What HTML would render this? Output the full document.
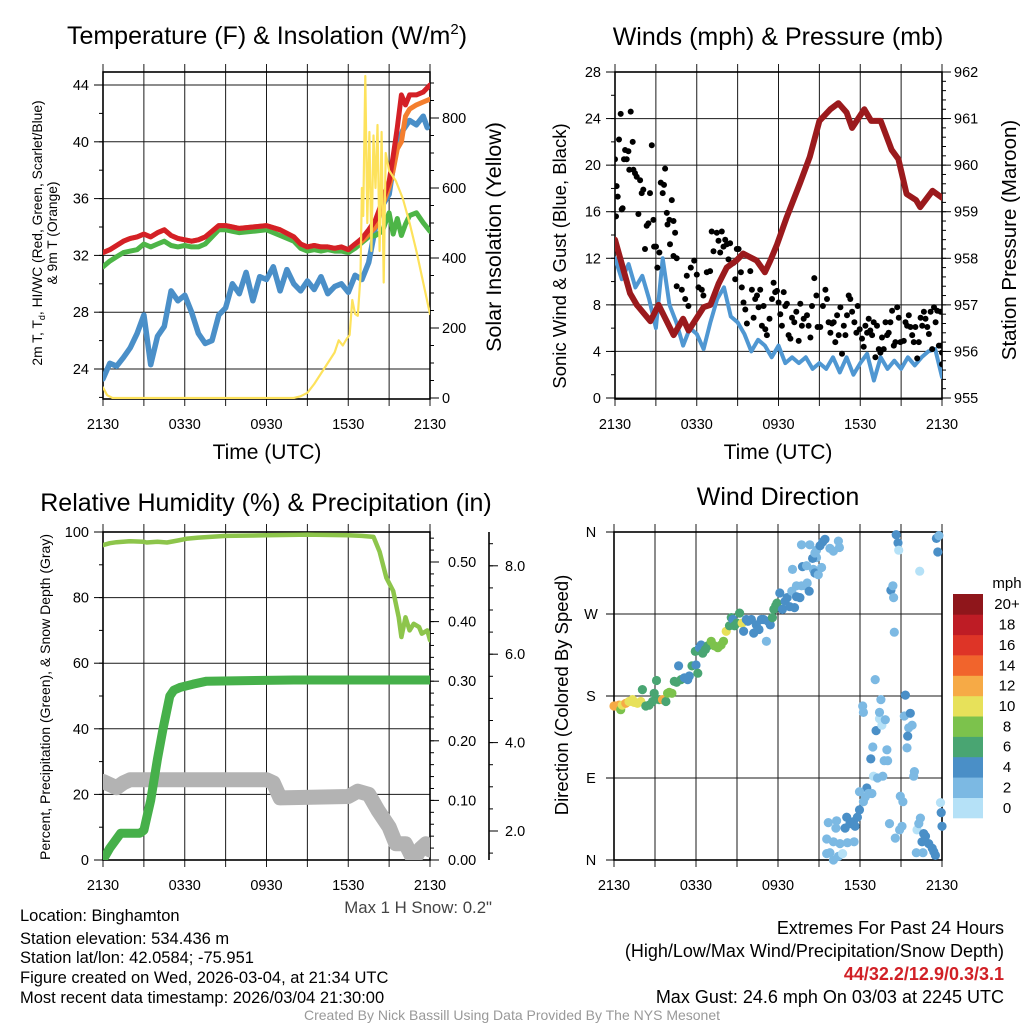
<!DOCTYPE html>
<html><head><meta charset="utf-8"><style>
html,body{margin:0;padding:0;background:#fff;}
svg{display:block;font-family:"Liberation Sans",sans-serif;}
</style></head><body>
<svg id="fig" width="1024" height="1024" viewBox="0 0 1024 1024" xmlns="http://www.w3.org/2000/svg">
<defs>
<clipPath id="c1"><rect x="103" y="72" width="327" height="327"/></clipPath>
<clipPath id="c2"><rect x="615" y="72" width="327" height="327"/></clipPath>
<clipPath id="c3"><rect x="103" y="532" width="327" height="328"/></clipPath>
<clipPath id="c4"><rect x="609" y="527" width="338" height="338"/></clipPath>
</defs>
<g id="p1"></g>
<g id="p2"></g>
<g id="p3"></g>
<g id="p4"></g>

<text x="267" y="44" font-size="25" text-anchor="middle">Temperature (F) &amp; Insolation (W/m<tspan font-size="15" dy="-10">2</tspan><tspan dy="10">)</tspan></text>
<text x="778" y="45" font-size="25" text-anchor="middle">Winds (mph) &amp; Pressure (mb)</text>
<text x="266" y="511" font-size="25" text-anchor="middle">Relative Humidity (%) &amp; Precipitation (in)</text>
<text x="778" y="505" font-size="25" text-anchor="middle">Wind Direction</text>

<text x="267" y="459" font-size="21" text-anchor="middle">Time (UTC)</text>
<text x="778" y="459" font-size="21" text-anchor="middle">Time (UTC)</text>

<text transform="translate(42,233) rotate(-90)" font-size="13.8" text-anchor="middle">2m T, T<tspan font-size="9" dy="3">d</tspan><tspan dy="-3">, HI/WC (Red, Green, Scarlet/Blue)</tspan></text>
<text transform="translate(57,233) rotate(-90)" font-size="13.8" text-anchor="middle">&amp; 9m T (Orange)</text>
<text transform="translate(501,237) rotate(-90)" font-size="21.5" text-anchor="middle">Solar Insolation (Yellow)</text>
<text transform="translate(566,256) rotate(-90)" font-size="18.5" text-anchor="middle">Sonic Wind &amp; Gust (Blue, Black)</text>
<text transform="translate(1016,240) rotate(-90)" font-size="20.5" text-anchor="middle">Station Pressure (Maroon)</text>
<text transform="translate(50,697) rotate(-90)" font-size="14" text-anchor="middle">Percent, Precipitation (Green), &amp; Snow Depth (Gray)</text>
<text transform="translate(568,695) rotate(-90)" font-size="18.5" text-anchor="middle">Direction (Colored By Speed)</text>

<text x="492" y="913" font-size="16.8" fill="#444" text-anchor="end">Max 1 H Snow: 0.2"</text>

<g font-size="16.5">
<text x="20" y="921">Location: Binghamton</text>
<text x="20" y="944">Station elevation: 534.436 m</text>
<text x="20" y="963">Station lat/lon: 42.0584; -75.951</text>
<text x="20" y="983">Figure created on Wed, 2026-03-04, at 21:34 UTC</text>
<text x="20" y="1003">Most recent data timestamp: 2026/03/04 21:30:00</text>
</g>
<g font-size="18" text-anchor="end">
<text x="1004" y="934">Extremes For Past 24 Hours</text>
<text x="1004" y="957">(High/Low/Max Wind/Precipitation/Snow Depth)</text>
<text x="1004" y="980" fill="#d12026" font-weight="bold">44/32.2/12.9/0.3/3.1</text>
<text x="1004" y="1003">Max Gust: 24.6 mph On 03/03 at 2245 UTC</text>
</g>
<text x="512" y="1020" font-size="14" fill="#999" text-anchor="middle">Created By Nick Bassill Using Data Provided By The NYS Mesonet</text>

<text x="1007" y="588" font-size="15" text-anchor="middle">mph</text>
</svg>
<script>
// ===== Panel 1 data =====
const tempTimes = [0,0.5,1,1.5,2,2.5,3,3.5,4,4.5,5,5.5,6,6.5,7,7.5,8,8.5,9,9.5,10,11,12,13,14,14.5,15,15.5,16,16.5,17,17.5,18,18.5,19,19.5,20,20.5,21,21.3,21.6,21.9,22.2,22.5,23,23.5,24];
const tempF = [32.2,32.4,32.7,33.0,33.2,33.3,33.5,33.3,33.6,33.8,33.4,33.2,33.1,33.0,33.1,33.3,33.7,34.1,34.1,34.0,33.9,34.0,34.1,33.8,33.3,32.8,32.6,32.7,32.6,32.6,32.5,32.6,32.4,32.8,33.2,33.8,34.5,35.8,37.2,39.0,41.0,43.3,42.6,43.3,43.3,43.5,44.0];
const hiwcF = [31.2,31.6,31.9,32.2,32.3,32.4,32.8,32.6,32.8,33.0,32.7,32.6,32.7,32.6,32.6,32.8,33.3,33.8,33.8,33.7,33.6,33.7,33.8,33.4,33.0,32.5,32.3,32.4,32.3,32.4,32.3,32.3,32.2,32.5,32.9,33.3,33.4,33.7,35.0,33.5,34.6,33.4,34.2,34.8,35.0,34.3,33.7];
const temp9mF = [32.2,32.4,32.7,33.0,33.2,33.3,33.5,33.3,33.6,33.8,33.4,33.2,33.1,33.0,33.1,33.3,33.7,34.1,34.1,34.0,33.9,34.0,34.1,33.8,33.3,32.8,32.6,32.7,32.6,32.6,32.5,32.6,32.4,32.8,33.0,33.5,34.0,35.5,36.8,38.0,39.5,40.0,41.8,42.3,42.6,42.8,43.0];
const dewTimes = [0,0.5,1,1.5,2,2.5,3,3.5,4,4.5,5,5.5,6,6.5,7,7.5,8,8.5,9,9.5,10,10.5,11,11.5,12,12.5,13,13.5,14,14.5,15,15.5,16,16.5,17,17.5,18,18.5,19,19.5,20,20.5,21,21.5,22,22.5,23,23.5,23.8];
const dewF = [23.3,24.4,24.2,24.8,25.5,26.5,27.8,24.3,26.3,27.0,29.5,28.8,29.2,28.0,26.5,25.8,26.0,27.8,28.3,30.0,29.3,30.8,28.8,30.5,30.3,31.2,29.5,31.0,30.0,29.5,30.2,29.6,30.5,29.3,29.8,30.0,29.4,30.6,30.3,31.5,34.0,35.5,36.3,39.5,40.8,41.5,41.2,41.8,41.0];
const insolTimes = [0,0.3,0.7,1,14,14.5,15,15.5,16,16.5,17,17.3,17.6,17.9,18.1,18.3,18.5,18.7,18.9,19.0,19.1,19.25,19.4,19.55,19.7,19.85,20.0,20.15,20.3,20.45,20.6,20.75,21,21.5,22,22.5,23,23.5,24];
const insol = [30,8,0,0,0,5,15,40,70,100,130,165,150,170,180,280,240,235,350,600,520,920,500,760,420,750,600,780,420,760,330,700,650,620,570,500,420,330,240];
const p1LeftTicks = [24,28,32,36,40,44];
const p1RightTicks = [0,200,400,600,800];
const timeLabels = ["2130","0330","0930","1530","2130"];

// ===== Panel 2 data =====
const windTimes = [0,0.5,1,1.5,2,2.5,3,3.5,4,4.5,5,5.5,6,6.5,7,7.5,8,8.5,9,9.5,10,10.5,11,11.5,12,12.5,13,13.5,14,14.5,15,15.5,16,16.5,17,17.5,18,18.5,19,19.5,20,20.5,21,21.5,22,22.5,23,23.5,24];
const windMph = [12.0,10.2,11.5,9.5,10.5,8.5,6.0,12.0,8.0,6.5,4.5,6.0,5.5,4.2,6.5,8.5,9.5,7.0,6.5,5.5,4.0,5.0,4.5,3.5,4.5,3.0,3.5,3.0,3.5,2.5,3.0,2.5,3.5,2.2,3.5,2.0,3.0,3.8,1.5,3.5,2.5,3.2,2.5,3.5,2.8,3.5,4.0,4.2,1.8];
const pressTimes = [0,1.1,1.6,2.6,3.2,4.3,5.0,5.4,6.5,7.0,7.6,8.2,8.9,9.4,10.4,11.0,11.4,11.9,12.6,13.6,14.3,15.0,15.8,16.4,17.0,17.4,18.3,18.8,19.5,20.3,20.8,21.4,22.1,22.4,23.3,24];
const pressMb = [958.40,957.25,957.00,956.65,957.00,956.35,956.70,956.45,956.95,957.00,957.45,957.80,957.95,958.10,957.95,957.70,957.95,958.30,958.88,959.63,960.18,960.95,961.20,961.33,961.13,960.80,961.20,960.95,960.95,960.33,960.13,959.38,959.25,959.10,959.45,959.30];
const gustTimes = [0,0.07,0.12,0.2,0.29,0.42,0.49,0.56,0.66,0.74,0.86,0.98,1.05,1.15,1.3,1.35,1.47,1.59,1.72,1.84,1.96,2.08,2.2,2.33,2.45,2.57,2.7,2.82,2.87,3.01,3.11,3.26,3.36,3.5,3.6,3.68,3.8,3.85,3.99,4.17,4.29,4.41,4.04,4.29,4.53,4.53,4.9,5.15,5.27,5.39,5.56,5.81,6.0,6.13,6.37,6.49,6.74,6.98,7.1,7.23,7.47,7.6,7.72,7.84,7.96,8.09,8.21,8.33,8.45,8.7,8.82,8.94,9.07,9.24,9.31,9.43,9.56,9.68,9.93,10.05,10.17,10.29,10.42,10.54,10.66,10.78,10.91,11.03,11.15,11.34,11.52,11.64,11.76,11.89,12.01,12.13,12.25,12.38,12.5,12.62,12.74,12.87,12.99,13.16,13.31,13.48,13.6,13.72,13.85,14.09,14.21,14.34,14.46,14.63,14.78,14.87,15.07,15.26,15.44,15.56,15.68,15.81,15.93,16.05,16.17,16.3,16.42,16.54,16.66,16.79,16.91,17.03,17.15,17.27,17.4,17.57,17.72,17.81,17.96,18.13,18.25,18.38,18.5,18.62,18.74,18.87,18.99,19.11,19.23,19.36,19.48,19.6,19.72,19.85,19.97,20.09,20.21,20.34,20.46,20.58,20.71,20.83,20.95,21.2,21.32,21.44,21.56,21.69,21.81,21.93,22.05,22.18,22.3,22.43,22.55,22.67,22.79,22.92,23.04,23.16,23.28,23.41,23.53,23.65,23.77,23.9,23.95,24,24];
const gustMph = [20.5,15.6,18.2,17.3,22.2,24.4,16.2,16.3,20.5,21.3,20.5,21.2,19.6,24.6,22.0,19.6,19.3,19.0,15.8,18.7,17.6,17.9,12.8,14.8,15.0,17.6,21.7,15.3,13.0,13.0,11.2,12.5,18.5,17.6,18.3,19.7,15.9,14.9,15.3,17.0,15.2,14.2,13.2,12.2,12.0,9.6,9.3,8.5,10.5,7.9,11.2,11.8,10.6,9.5,9.3,8.8,10.8,10.9,14.3,12.6,14.2,13.5,12.5,14.3,13.0,13.6,13.2,11.9,13.3,11.6,10.2,12.8,12.8,10.8,9.5,8.2,7.6,6.4,10.9,9.3,6.9,8.5,8.8,7.8,9.3,6.2,7.9,5.9,5.4,6.8,8.5,9.9,9.1,9.2,8.2,7.2,6.2,9.1,7.9,8.1,5.4,5.1,6.9,6.5,7.4,4.9,8.1,6.2,6.8,7.1,6.2,5.2,7.9,10.3,8.8,6.1,6.1,7.9,9.3,8.5,6.5,5.6,6.4,6.5,4.8,7.1,5.4,7.8,3.8,6.2,5.4,7.1,8.8,8.5,7.4,6.5,5.6,7.9,5.9,5.1,4.4,6.2,5.6,6.8,5.8,5.4,6.5,3.5,6.2,4.2,3.9,5.2,4.2,6.5,5.4,5.6,6.5,7.5,4.5,4.8,7.8,6.9,4.8,4.9,6.5,6.2,7.1,6.1,5.4,4.8,6.1,3.4,4.8,6.9,6.2,7.4,6.8,6.1,5.5,7.4,4.2,7.8,6.5,7.5,4.5,7.4,4.5,3.9,2.9];
const p2LeftTicks = [0,4,8,12,16,20,24,28];
const p2RightTicks = [955,956,957,958,959,960,961,962];

// ===== Panel 3 data =====
const rhTimes = [0,0.5,1,2,3,3.2,4,4.7,5.5,6.2,7,9,12,15,18,19,19.85,20.3,20.8,21.3,21.7,21.9,22.2,22.5,22.8,23.2,23.4,23.8,24];
const rhPct = [96,96.6,96.9,97.2,97.0,96.8,97.0,96.8,97.4,98.0,98.3,98.8,99.0,99.2,99.0,98.8,98.5,94,86,82,74,68,74,70,72,71,69,70,67];
const precipTimes = [0,0.5,1.3,2.7,3.0,3.2,3.5,4.0,4.4,4.9,5.2,5.7,6.6,7.6,14,24];
const precipIn = [0,0.02,0.045,0.045,0.05,0.07,0.10,0.17,0.22,0.275,0.285,0.29,0.295,0.30,0.302,0.302];
const snowTimes = [0,1,1.5,2,12,12.5,13,18,18.7,19.5,20.2,21,21.5,22.2,22.8,23.3,23.7,24];
const snowIn = [3.12,2.98,3.09,3.16,3.16,3.09,2.75,2.78,2.90,2.83,2.46,2.09,1.71,1.71,1.34,1.60,1.71,1.57];
const p3LeftTicks = [0,20,40,60,80,100];
const precipTicks = [0,0.1,0.2,0.3,0.4,0.5];
const precipTickLabels = ["0.00","0.10","0.20","0.30","0.40","0.50"];
const snowTicks = [2,4,6,8];
const snowTickLabels = ["2.0","4.0","6.0","8.0"];

// ===== Panel 4 data =====
const dirTimes = [0,0.12,0.37,0.49,0.61,0.86,1.10,1.35,1.47,1.72,1.96,2.08,2.33,2.57,2.82,2.94,3.11,3.31,3.55,3.80,3.92,4.04,4.24,4.41,4.58,4.73,4.90,5.15,5.39,5.51,5.71,6.00,6.13,5.95,6.25,6.37,6.49,6.69,6.86,7.11,7.35,7.60,7.84,8.01,8.21,8.45,8.58,8.70,8.82,8.99,9.19,9.38,9.48,9.68,9.80,10.05,10.22,10.41,10.61,10.78,10.95,11.15,11.27,11.44,11.59,11.69,11.83,11.93,12.13,12.32,12.52,12.67,12.86,13.01,13.21,13.35,13.60,13.35,13.72,13.97,14.14,14.28,13.06,13.79,14.09,14.58,14.70,14.95,15.19,14.82,14.53,14.70,14.82,13.72,14.33,15.07,15.26,15.44,15.80,16.05,16.42,16.49,15.68,16.29,16.24,16.91,17.03,17.27,17.52,17.64,17.81,15.56,16.05,16.54,17.08,17.57,15.56,15.80,16.05,16.42,16.73,17.96,18.25,18.38,18.50,18.62,18.87,17.96,18.99,19.28,19.67,18.79,18.94,19.77,20.02,19.97,19.18,19.60,19.43,19.85,19.43,18.20,18.25,19.53,19.11,20.26,20.41,20.46,20.51,20.65,20.78,20.83,22.37,23.59,23.69,23.77,21.32,21.24,21.68,21.81,21.56,21.49,21.44,21.98,21.93,20.95,21.14,20.16,21.07,20.90,20.58,22.17,22.42,22.30,22.66,22.79,22.54,23.03,23.28,23.40,23.52,22.12,22.61,23.89,23.94,24.0];
const dirDeg = [169,169,170,165,170,172,174,176,173,172,174,187,169,170,174,183,197,176,176,174,183,184,183,196,195,213,198,200,198,202,213,214,205,229,233,236,227,231,235,240,235,233,236,240,251,257,266,264,257,260,271,260,251,264,262,264,249,258,253,264,264,240,262,258,266,275,279,282,293,275,284,288,278,295,277,289,288,301,301,301,304,295,319,322,323,319,315,313,321,332,331,337,340,346,346,345,349,352,342,339,350,343,41,43,35,35,47,40,42,37,47,23,20,18,19,20,7,8,0,4,7,55,64,69,79,73,73,75,92,90,92,111,124,109,109,121,142,148,155,154,162,169,162,176,198,296,301,288,250,357,348,340,317,353,338,356,181,158,161,148,145,136,123,97,92,70,64,40,37,33,24,33,46,40,29,26,20,18,13,9,5,8,8,63,52,37];
const dirSpeed = [12,12,12,8,10,12,10,10,10,10,10,6,6,6,6,6,6,6,12,6,8,8,8,6,6,4,6,4,4,4,6,4,6,6,4,4,6,6,6,8,8,8,8,8,10,6,6,4,6,6,6,10,4,4,4,4,4,4,4,4,4,2,4,4,6,6,6,6,4,4,4,4,4,2,4,4,4,2,2,2,2,4,2,4,2,2,4,2,2,2,4,2,2,2,2,4,4,4,2,2,2,2,2,2,2,4,4,4,4,4,4,2,2,2,2,2,2,2,2,2,0,4,2,2,4,2,2,2,0,2,2,4,2,2,2,2,4,0,0,2,2,2,2,2,2,4,2,2,2,4,4,0,0,4,4,2,4,2,4,2,2,4,2,2,2,2,2,2,2,2,2,0,2,2,4,4,4,4,4,4,4,2,2,0,4,4];
const dirTickLabels = ["N","E","S","W","N"];
const dirTickDeg = [0,90,180,270,360];
const speedBins = [0,2,4,6,8,10,12,14,16,18,20];
const speedBinLabels = ["0","2","4","6","8","10","12","14","16","18","20+"];
const speedColors = ["#b5e1f7","#7cb9e3","#4a8fc7","#49a572","#7cc24c","#e7e15a","#f6aa46","#f1642c","#de3427","#be1c25","#8f161b"];

// ===== helpers =====
const NS = "http://www.w3.org/2000/svg";
function mk(tag, parent, attrs){
  const e = document.createElementNS(NS, tag);
  for (const k in attrs) e.setAttribute(k, attrs[k]);
  parent.appendChild(e);
  return e;
}
function pathD(ts, vs, fx, fy){
  let d = "";
  for (let i=0;i<ts.length;i++){ d += (i?"L":"M") + fx(ts[i]).toFixed(1) + "," + fy(vs[i]).toFixed(1); }
  return d;
}
const TICK_FS = "14.5";

function frame(g, x0, y0, w, h, hGridVals, fy, name){
  const grid = mk("g", g, {stroke:"#1a1a1a","stroke-width":"1"});
  
  
  for (let k=0;k<=8;k++){
    const x = x0 + k*w/8;
    mk("line", grid, {x1:x, x2:x, y1:y0-8, y2:y0+h+7});
  }
  hGridVals.forEach(v=>{ const y=fy(v); mk("line", grid, {x1:x0, x2:x0+w, y1:y, y2:y}); });
  const box = mk("rect", g, {x:x0, y:y0, width:w, height:h, fill:"none", stroke:"#000", "stroke-width":"1.6"});
  
  
  timeLabels.forEach((lab,k)=>{
    const t = mk("text", g, {x:x0 + k*w/4, y:y0+h+30, "font-size":TICK_FS, "text-anchor":"middle"});
    t.textContent = lab;
    
    
  });
}
function leftTicks(g, x0, vals, labels, fy, minorVals, name){
  const tg = mk("g", g, {stroke:"#000","stroke-width":"1"});
  
  
  minorVals.forEach(v=>mk("line", tg, {x1:x0-4, x2:x0, y1:fy(v), y2:fy(v)}));
  vals.forEach((v,i)=>{
    mk("line", tg, {x1:x0-9, x2:x0, y1:fy(v), y2:fy(v)});
    const t = mk("text", g, {x:x0-14, y:fy(v)+5, "font-size":TICK_FS, "text-anchor":"end"});
    t.textContent = labels[i];
    
    
  });
}
function rightTicks(g, x0, vals, labels, fy, minorVals, name, gap){
  const tg = mk("g", g, {stroke:"#000","stroke-width":"1"});
  
  
  minorVals.forEach(v=>mk("line", tg, {x1:x0, x2:x0+4, y1:fy(v), y2:fy(v)}));
  vals.forEach((v,i)=>{
    mk("line", tg, {x1:x0, x2:x0+9, y1:fy(v), y2:fy(v)});
    const t = mk("text", g, {x:x0+gap, y:fy(v)+5, "font-size":TICK_FS, "text-anchor":"start"});
    t.textContent = labels[i];
    
    
  });
}
function range(a,b,s){ const r=[]; for(let v=a; v<=b+1e-9; v+=s) r.push(+v.toFixed(4)); return r; }

// ===== Panel 1 =====
(function(){
  const g = document.getElementById("p1");
  const X = t => 103 + t*327/24;
  const YL = v => 369 - (v-24)*14.2;
  const YR = w => 398 - w*0.35;
  frame(g, 103, 72, 327, 327, p1LeftTicks, YL, "p1");
  leftTicks(g, 103, p1LeftTicks, p1LeftTicks.map(String), YL, range(22,44,2), "p1-left");
  rightTicks(g, 430, p1RightTicks, p1RightTicks.map(String), YR, range(0,900,50), "p1-right", 12);
  const cg = mk("g", g, {"clip-path":"url(#c1)", fill:"none", "stroke-linejoin":"round", "stroke-linecap":"round"});
  
  
  const dew = mk("path", cg, {d:pathD(dewTimes, dewF, X, YL), stroke:"#4a8fc8", "stroke-width":"5.5"});
  
  
  const hw = mk("path", cg, {d:pathD(tempTimes, hiwcF, X, YL), stroke:"#4db547", "stroke-width":"5"});
  
  
  const t9 = mk("path", cg, {d:pathD(tempTimes, temp9mF, X, YL), stroke:"#f47e2e", "stroke-width":"5"});
  
  
  const t2 = mk("path", cg, {d:pathD(tempTimes, tempF, X, YL), stroke:"#d42026", "stroke-width":"5"});
  
  
  const ins = mk("path", cg, {d:pathD(insolTimes, insol, X, YR), stroke:"#fde25c", "stroke-width":"2.2"});
  
  
})();

// ===== Panel 2 =====
(function(){
  const g = document.getElementById("p2");
  const X = t => 615 + t*327/24;
  const YL = v => 398 - v*326/28;
  const YP = p => 398 - (p-955)*326/7;
  frame(g, 615, 72, 327, 327, p2LeftTicks, YL, "p2");
  leftTicks(g, 615, p2LeftTicks, p2LeftTicks.map(String), YL, range(0,28,2), "p2-left");
  rightTicks(g, 942, p2RightTicks, p2RightTicks.map(String), YP, range(955,962,0.2), "p2-right", 12);
  const cg = mk("g", g, {"clip-path":"url(#c2)", fill:"none", "stroke-linejoin":"round", "stroke-linecap":"round"});
  
  
  const w = mk("path", cg, {d:pathD(windTimes, windMph, X, YL), stroke:"#4f97d2", "stroke-width":"4"});
  
  
  const dg = mk("g", cg, {fill:"#000"});
  
  
  for (let i=0;i<gustTimes.length;i++){
    const c = mk("circle", dg, {cx:X(gustTimes[i]).toFixed(1), cy:YL(gustMph[i]).toFixed(1), r:"3"});
    
    
  }
  const p = mk("path", cg, {d:pathD(pressTimes, pressMb, X, YP), stroke:"#9b1a1d", "stroke-width":"6"});
  
  
})();

// ===== Panel 3 =====
(function(){
  const g = document.getElementById("p3");
  const X = t => 103 + t*327/24;
  const YL = v => 860 - v*3.28;
  const YPr = v => 860 - v*596;
  const YS = v => 831 - (v-2)*44.2;
  frame(g, 103, 532, 327, 328, p3LeftTicks, YL, "p3");
  leftTicks(g, 103, p3LeftTicks, p3LeftTicks.map(String), YL, range(0,100,10), "p3-left");
  rightTicks(g, 430, precipTicks, precipTickLabels, YPr, range(0,0.54,0.02), "precip", 18);
  const ax = mk("line", g, {x1:489, x2:489, y1:532, y2:860, stroke:"#000", "stroke-width":"1.6"});
  
  
  rightTicks(g, 489, snowTicks, snowTickLabels, YS, range(1.5,8.5,0.5), "snow", 16);
  const cg = mk("g", g, {"clip-path":"url(#c3)", fill:"none", "stroke-linejoin":"round", "stroke-linecap":"round"});
  
  
  const s = mk("path", cg, {d:pathD(snowTimes, snowIn, X, YS), stroke:"#b3b3b3", "stroke-width":"15"});
  
  
  const pr = mk("path", cg, {d:pathD(precipTimes, precipIn, X, YPr), stroke:"#46b04a", "stroke-width":"9"});
  
  
  const rh = mk("path", cg, {d:pathD(rhTimes, rhPct, X, YL), stroke:"#8dc54b", "stroke-width":"4.5"});
  
  
})();

// ===== Panel 4 =====
(function(){
  const g = document.getElementById("p4");
  const X = t => 614 + t*328/24;
  const YD = d => 860 - d*328/360;
  frame(g, 614, 532, 328, 328, dirTickDeg, YD, "p4");
  dirTickDeg.forEach((d,i)=>{
    const t = mk("text", g, {x:591, y:YD(d)+5, "font-size":TICK_FS, "text-anchor":"middle"});
    t.textContent = dirTickLabels[i];
    
    
    mk("line", g, {x1:606, x2:614, y1:YD(d), y2:YD(d), stroke:"#000"});
  });
  const cg = mk("g", g, {"clip-path":"url(#c4)"});
  
  
  for (let i=0;i<dirTimes.length;i++){
    const bin = Math.min(10, Math.round(dirSpeed[i]/2));
    const c = mk("circle", cg, {cx:X(dirTimes[i]).toFixed(1), cy:YD(dirDeg[i]).toFixed(1), r:"4.6", fill:speedColors[bin]});
    
    
  }
  const cb = mk("g", g, {});
  
  
  const h = 224/11;
  speedBins.forEach((s,i)=>{
    const y = 818 - (i+1)*h;
    const r = mk("rect", cb, {x:953, y:y.toFixed(1), width:30, height:(h+0.3).toFixed(1), fill:speedColors[i]});
    
    
    const t = mk("text", cb, {x:1007, y:(y+h/2+5).toFixed(1), "font-size":"15", "text-anchor":"middle"});
    t.textContent = speedBinLabels[i];
    
    
  });
})();
</script>
</body></html>
